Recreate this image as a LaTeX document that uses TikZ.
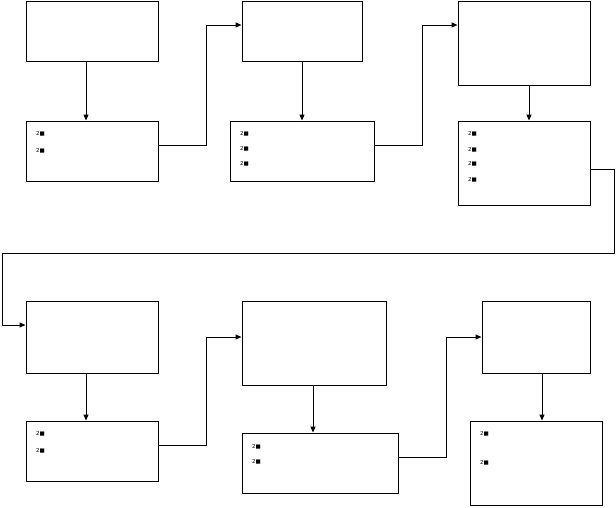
\documentclass[tikz,border=0pt]{standalone}
\usepackage{fontspec}
\newfontfamily\symfont{DejaVu Sans}
\usetikzlibrary{arrows.meta}
\begin{document}
\begin{tikzpicture}[x=1pt,y=-1pt,
  box/.style={draw=black,line width=1pt,inner sep=0pt,fill=white},
  arr/.style={draw=black,line width=1pt,-{Triangle[length=6pt,width=5pt]}},
  item/.style={anchor=west,inner sep=0pt,font=\symfont\fontsize{5.5}{6}\selectfont}]
\useasboundingbox (0,0) rectangle (616,507);
% boxes
\node[box,minimum width=132pt,minimum height=60pt] (A1) at (92,31) {};
\node[box,minimum width=132pt,minimum height=60pt] (A2) at (92,151) {};
\node[box,minimum width=120pt,minimum height=60pt] (B1) at (302,31) {};
\node[box,minimum width=144pt,minimum height=60pt] (B2) at (302,151) {};
\node[box,minimum width=132pt,minimum height=84pt] (C1) at (524,43) {};
\node[box,minimum width=132pt,minimum height=84pt] (C2) at (524,163) {};
\node[box,minimum width=132pt,minimum height=72pt] (D1) at (92,337) {};
\node[box,minimum width=132pt,minimum height=60pt] (D2) at (92,451) {};
\node[box,minimum width=144pt,minimum height=84pt] (E1) at (314,343) {};
\node[box,minimum width=156pt,minimum height=60pt] (E2) at (320,463) {};
\node[box,minimum width=108pt,minimum height=72pt] (F1) at (536,337) {};
\node[box,minimum width=132pt,minimum height=84pt] (F2) at (536,463) {};
% items
\node[item] (a21) at (36,134) {2■};
\node[item] (a22) at (36,151) {2■};
\node[item] (b21) at (240,134) {2■};
\node[item] (b22) at (240,149) {2■};
\node[item] (b23) at (240,164) {2■};
\node[item] (c21) at (468,134) {2■};
\node[item] (c22) at (468,150) {2■};
\node[item] (c23) at (468,164) {2■};
\node[item] (c24) at (468,180) {2■};
\node[item] (d21) at (36,434) {2■};
\node[item] (d22) at (36,451) {2■};
\node[item] (e21) at (252,447) {2■};
\node[item] (e22) at (252,462) {2■};
\node[item] (f21) at (480,434) {2■};
\node[item] (f22) at (480,463) {2■};
% helper coordinates
\coordinate (xa) at (86,0);
\coordinate (xb) at (302,0);
\coordinate (xc) at (529,0);
\coordinate (xe) at (313,0);
\coordinate (xf) at (542,0);
\coordinate (ya) at (0,145);
\coordinate (yt) at (0,25);
\coordinate (yc) at (0,169);
\coordinate (yd) at (0,325);
\coordinate (yd2) at (0,445);
\coordinate (ye) at (0,337);
\coordinate (ye2) at (0,457);
\coordinate (j1) at (206,145);
\coordinate (j2) at (422,145);
\coordinate (j3) at (614,253);
\coordinate (j4) at (2,253);
\coordinate (j5) at (206,445);
\coordinate (j6) at (446,457);
% vertical arrows
\draw[arr] (A1.south -| xa) -- (A2.north -| xa);
\draw[arr] (B1.south -| xb) -- (B2.north -| xb);
\draw[arr] (C1.south -| xc) -- (C2.north -| xc);
\draw[arr] (D1.south -| xa) -- (D2.north -| xa);
\draw[arr] (E1.south -| xe) -- (E2.north -| xe);
\draw[arr] (F1.south -| xf) -- (F2.north -| xf);
% elbow connectors
\draw[arr] (A2.east |- ya) -- (j1) |- (B1.west |- yt);
\draw[arr] (B2.east |- ya) -- (j2) |- (C1.west |- yt);
\draw[arr] (C2.east |- yc) -| (j3) -- (j4) |- (D1.west |- yd);
\draw[arr] (D2.east |- yd2) -- (j5) |- (E1.west |- ye);
\draw[arr] (E2.east |- ye2) -- (j6) |- (F1.west |- ye);
\end{tikzpicture}
\end{document}
